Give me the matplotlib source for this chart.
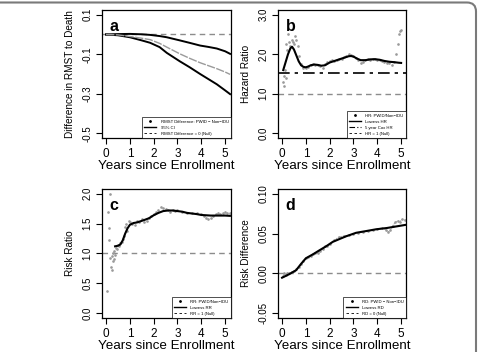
import matplotlib
matplotlib.use('Agg')
import matplotlib.pyplot as plt
import matplotlib.patches as mpatches

plt.rcParams['font.family'] = ['Liberation Sans', 'DejaVu Sans']

# panel a: RMST difference with 95% CI
rmst_x = [0, 0.5, 1.0, 1.5, 1.85, 2.25, 2.55, 3.1, 3.5, 3.95, 4.3, 4.65, 5.0, 5.21]
rmst_est = [0, -0.002, -0.01, -0.019, -0.026, -0.045, -0.064, -0.098, -0.12, -0.143, -0.158, -0.173, -0.19, -0.202]
rmst_upper = [0, 0.002, 0.003, 0.001, -0.002, -0.008, -0.014, -0.03, -0.042, -0.056, -0.063, -0.071, -0.085, -0.098]
rmst_lower = [0, -0.004, -0.014, -0.03, -0.042, -0.064, -0.093, -0.136, -0.165, -0.2, -0.226, -0.252, -0.283, -0.302]

# panel b: hazard ratio
hr_x = [0.05, 0.08, 0.1, 0.12, 0.15, 0.18, 0.2, 0.25, 0.3, 0.35, 0.4, 0.45, 0.5, 0.55, 0.6, 0.65,
        0.7, 0.8, 0.9, 1.0, 1.1, 1.2, 1.3, 1.4, 1.5, 1.6, 1.7, 1.8, 1.9, 2.0, 2.1, 2.2, 2.3, 2.4,
        2.5, 2.6, 2.7, 2.8, 2.9, 3.0, 3.1, 3.2, 3.3, 3.4, 3.5, 3.6, 3.7, 3.8, 3.9, 4.0, 4.1, 4.2,
        4.3, 4.4, 4.5, 4.6, 4.7, 4.8, 4.85, 4.9, 4.95, 5.0]
hr_pts = [1.3, 1.2, 1.45, 1.6, 2.25, 1.4, 2.1, 2.5, 2.3, 2.2, 2.35, 2.3, 2.25, 2.45, 2.35, 2.2,
          1.95, 1.75, 1.65, 1.65, 1.68, 1.72, 1.75, 1.73, 1.72, 1.7, 1.66, 1.75, 1.8, 1.82, 1.85,
          1.83, 1.86, 1.88, 1.87, 1.92, 1.95, 2.0, 1.97, 1.95, 1.9, 1.85, 1.78, 1.8, 1.86, 1.87,
          1.86, 1.88, 1.87, 1.85, 1.86, 1.82, 1.8, 1.79, 1.78, 1.73, 1.8, 2.0, 2.25, 2.5, 2.6, 2.62]
hr_lx = [0.05, 0.15, 0.25, 0.35, 0.42, 0.5, 0.6, 0.7, 0.8, 0.9, 1.0, 1.1, 1.2, 1.35, 1.5, 1.65,
         1.8, 2.0, 2.2, 2.4, 2.6, 2.8, 2.9, 3.0, 3.15, 3.3, 3.5, 3.7, 3.9, 4.1, 4.3, 4.5, 4.7, 4.9, 5.0]
hr_low = [1.6, 1.8, 2.0, 2.15, 2.19, 2.12, 1.97, 1.82, 1.72, 1.68, 1.67, 1.69, 1.72, 1.74, 1.73,
          1.71, 1.72, 1.79, 1.83, 1.87, 1.91, 1.95, 1.955, 1.94, 1.89, 1.85, 1.85, 1.87, 1.875,
          1.86, 1.83, 1.81, 1.8, 1.785, 1.78]
cox_hr = 1.525

# panel c: risk ratio
rr_x = [0.03, 0.1, 0.14, 0.14, 0.17, 0.17, 0.2, 0.24, 0.26, 0.28, 0.3, 0.32, 0.35, 0.38, 0.4,
        0.45, 0.5, 0.55, 0.6, 0.65, 0.7, 0.75, 0.8, 0.85, 0.9, 0.95, 1.0, 1.1, 1.2, 1.3, 1.4, 1.5,
        1.6, 1.7, 1.8, 1.9, 2.0, 2.1, 2.2, 2.3, 2.4, 2.5, 2.6, 2.7, 2.8, 2.9, 3.0, 3.2, 3.4, 3.6,
        3.8, 4.0, 4.1, 4.2, 4.3, 4.4, 4.5, 4.6, 4.7, 4.8, 4.9, 5.0, 5.1, 5.2]
rr_pts = [0.37, 1.7, 1.42, 1.23, 2.0, 0.92, 0.78, 0.73, 0.95, 0.88, 1.0, 0.9, 1.05, 0.97, 1.1,
          1.08, 1.15, 1.12, 1.18, 1.2, 1.25, 1.3, 1.45, 1.5, 1.38, 1.55, 1.52, 1.5, 1.48, 1.55,
          1.53, 1.57, 1.52, 1.55, 1.6, 1.62, 1.66, 1.7, 1.72, 1.78, 1.76, 1.74, 1.72, 1.7, 1.73,
          1.71, 1.72, 1.7, 1.68, 1.67, 1.67, 1.66, 1.63, 1.6, 1.57, 1.6, 1.63, 1.66, 1.67, 1.66,
          1.68, 1.69, 1.67, 1.68]
rr_lx = [0.38, 0.5, 0.6, 0.7, 0.8, 0.9, 1.0, 1.15, 1.3, 1.45, 1.6, 1.8, 2.0, 2.2, 2.4, 2.6, 2.8,
         3.0, 3.2, 3.4, 3.6, 3.8, 4.0, 4.2, 4.4, 4.6, 4.8, 5.0, 5.2]
rr_low = [1.12, 1.13, 1.15, 1.22, 1.33, 1.42, 1.48, 1.51, 1.52, 1.54, 1.56, 1.59, 1.64, 1.68,
          1.71, 1.72, 1.72, 1.71, 1.7, 1.68, 1.67, 1.66, 1.645, 1.64, 1.635, 1.635, 1.635, 1.635, 1.63]

# panel d: risk difference
rd_x = [0.05, 0.1, 0.15, 0.2, 0.3, 0.4, 0.5, 0.6, 0.7, 0.8, 0.9, 1.0, 1.1, 1.2, 1.3, 1.4, 1.5,
        1.6, 1.7, 1.8, 1.9, 2.0, 2.2, 2.4, 2.6, 2.8, 3.0, 3.2, 3.4, 3.6, 3.8, 4.0, 4.2, 4.35,
        4.45, 4.55, 4.65, 4.75, 4.85, 4.95, 5.05, 5.15]
rd_pts = [-0.003, 0.0, -0.002, 0.001, 0.0, 0.002, 0.003, 0.005, 0.008, 0.012, 0.016, 0.019,
          0.02, 0.022, 0.024, 0.026, 0.025, 0.028, 0.031, 0.034, 0.035, 0.037, 0.042, 0.046,
          0.047, 0.048, 0.05, 0.051, 0.052, 0.053, 0.054, 0.056, 0.057, 0.055, 0.052, 0.054,
          0.06, 0.064, 0.066, 0.065, 0.068, 0.067]
rd_lx = [0.0, 0.3, 0.59, 0.8, 1.0, 1.3, 1.57, 1.85, 2.13, 2.4, 2.69, 3.11, 3.5, 3.95, 4.4, 4.8, 5.2]
rd_low = [-0.0054, -0.001, 0.004, 0.012, 0.019, 0.024, 0.029, 0.034, 0.0396, 0.043, 0.0466,
          0.051, 0.053, 0.0554, 0.057, 0.059, 0.061]

XLABEL = 'Years since Enrollment'
GRAY = '#8c8c8c'
PT = '#9a9a9a'


def style_axes(ax, ylim, yticks, yticklabels, xlim, ylabel, letter):
    ax.set_xlim(*xlim)
    ax.set_ylim(*ylim)
    ax.set_xticks(range(6))
    ax.set_yticks(yticks)
    ax.set_yticklabels(yticklabels, rotation=90, va='center', fontsize=7)
    ax.tick_params(direction='out', length=4, width=0.8, pad=3, colors='black')
    ax.tick_params(axis='x', labelsize=8.5)
    for s in ax.spines.values():
        s.set_linewidth(0.9)
    ax.set_xlabel(XLABEL, fontsize=9.6, labelpad=0.5)
    ax.set_ylabel(ylabel, fontsize=7.2, labelpad=5)
    ax.text(0.06, 0.93, letter, transform=ax.transAxes, fontsize=11.5, fontweight='bold',
            va='top', ha='left')


def small_legend(ax, handles, labels):
    leg = ax.legend(handles, labels, loc='lower right', fontsize=3.1, frameon=True,
                    fancybox=False, borderaxespad=0, handlelength=2.8, labelspacing=0.45,
                    borderpad=0.55, handletextpad=1.0)
    leg.get_frame().set_edgecolor('black')
    leg.get_frame().set_linewidth(0.6)


fig = plt.figure(figsize=(4.78, 3.52), dpi=100)
xl_left = (-0.17, 5.25)
xl_right = (-0.17, 5.21)

# a
ax = fig.add_axes([0.2134, 0.608, 0.270, 0.3636])
ax.axhline(0, color=GRAY, ls=(0, (4, 3)), lw=1.0)
ax.plot(rmst_x, rmst_upper, color='black', lw=1.4)
ax.plot(rmst_x, rmst_lower, color='black', lw=1.4)
ax.plot(rmst_x, rmst_est, color=PT, lw=1.0, ls=(0, (6, 1)))
style_axes(ax, (-0.524, 0.124), [0.1, -0.1, -0.3, -0.5], ['0.1', '-0.1', '-0.3', '-0.5'],
           xl_left, 'Difference in RMST to Death', 'a')
h = [plt.Line2D([], [], color='black', marker='.', ls='none', ms=2),
     plt.Line2D([], [], color='black', lw=1.0),
     plt.Line2D([], [], color='black', lw=0.6, ls=(0, (3, 3)))]
small_legend(ax, h, ['RMST Difference: PWID \u2212 Non\u2212IDU', '95% CI', 'RMST Difference = 0 (Null)'])

# b
ax = fig.add_axes([0.5816, 0.608, 0.268, 0.3636])
ax.axhline(1.0, color=GRAY, ls=(0, (4, 3)), lw=1.0)
ax.axhline(cox_hr, color='black', ls=(0, (7, 3, 2, 3)), lw=1.2)
ax.plot(hr_x, hr_pts, ls='none', marker='.', ms=1.8, color=PT)
ax.plot(hr_lx, hr_low, color='black', lw=1.5)
style_axes(ax, (-0.12, 3.12), [0, 1, 2, 3], ['0.0', '1.0', '2.0', '3.0'], xl_right, 'Hazard Ratio', 'b')
h = [plt.Line2D([], [], color='black', marker='.', ls='none', ms=2),
     plt.Line2D([], [], color='black', lw=1.0),
     plt.Line2D([], [], color='black', lw=0.8, ls=(0, (5, 2, 1, 2))),
     plt.Line2D([], [], color='black', lw=0.6, ls=(0, (3, 3)))]
small_legend(ax, h, ['HR: PWID/Non\u2212IDU', 'Lowess HR', '5 year Cox HR', 'HR = 1 (Null)'])

# c
ax = fig.add_axes([0.2134, 0.0966, 0.270, 0.3665])
ax.axhline(1.0, color=GRAY, ls=(0, (4, 3)), lw=1.0)
ax.plot(rr_x, rr_pts, ls='none', marker='.', ms=1.8, color=PT)
ax.plot(rr_lx, rr_low, color='black', lw=1.5)
style_axes(ax, (-0.08, 2.08), [0, 0.5, 1.0, 1.5, 2.0], ['0.0', '0.5', '1.0', '1.5', '2.0'],
           xl_left, 'Risk Ratio', 'c')
h = [plt.Line2D([], [], color='black', marker='.', ls='none', ms=2),
     plt.Line2D([], [], color='black', lw=1.0),
     plt.Line2D([], [], color='black', lw=0.6, ls=(0, (3, 3)))]
small_legend(ax, h, ['RR: PWID/Non\u2212IDU', 'Lowess RR', 'RR = 1 (Null)'])

# d
ax = fig.add_axes([0.5816, 0.0966, 0.268, 0.3665])
ax.axhline(0.0, color=GRAY, ls=(0, (4, 3)), lw=1.0)
ax.plot(rd_x, rd_pts, ls=(0, (2, 1)), lw=0.6, marker='.', ms=1.8, color=PT)
ax.plot(rd_lx, rd_low, color='black', lw=1.5)
style_axes(ax, (-0.056, 0.106), [-0.05, 0, 0.05, 0.10], ['-0.05', '0.00', '0.05', '0.10'],
           xl_right, 'Risk Difference', 'd')
h = [plt.Line2D([], [], color='black', marker='.', ls='none', ms=2),
     plt.Line2D([], [], color='black', lw=1.0),
     plt.Line2D([], [], color='black', lw=0.6, ls=(0, (3, 3)))]
small_legend(ax, h, ['RD: PWID \u2212 Non\u2212IDU', 'Lowess RD', 'RD = 0 (Null)'])

# outer frame with rounded corner
frame = mpatches.FancyBboxPatch((-30, -30), 506, 379.5, boxstyle='round,pad=0,rounding_size=9',
                                transform=None, fill=False, edgecolor='#7a7a7a', lw=1.5)
fig.patches.append(frame)

fig.savefig('out.png', dpi=100)
